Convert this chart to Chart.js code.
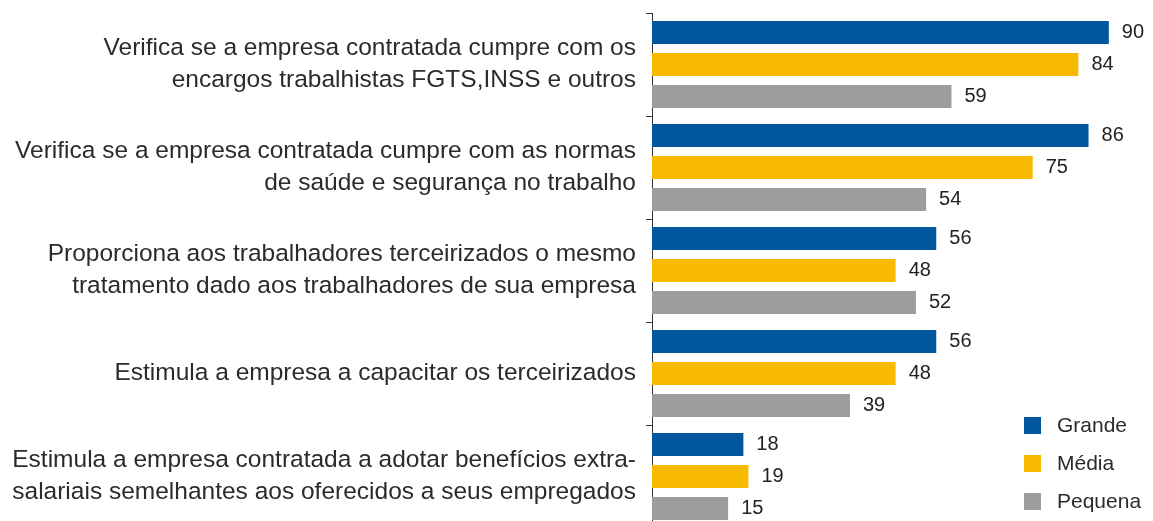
<!DOCTYPE html>
<html>
<head>
<meta charset="utf-8">
<script src="https://cdn.jsdelivr.net/npm/chart.js@4"></script>
<style>
  html, body { margin: 0; padding: 0; background: #fff; overflow: hidden; }
  #wrap { position: relative; width: 1153px; height: 528px; }
  #legend { position: absolute; left: 1024px; top: 406px; font-family: Arial, "Liberation Sans", sans-serif; font-size: 21px; color: #2b2b2b; }
  #legend div { height: 38px; display: flex; align-items: center; }
  #legend span.box { display: inline-block; width: 17px; height: 17px; margin-right: 16px; }
</style>
</head>
<body>
<div id="wrap">
  <canvas id="chart" width="1153" height="528"></canvas>
  <div id="legend"></div>
</div>
<script>
// categories and values (%)
const categories = [
  ['Verifica se a empresa contratada cumpre com os', 'encargos trabalhistas FGTS,INSS e outros'],
  ['Verifica se a empresa contratada cumpre com as normas', 'de saúde e segurança no trabalho'],
  ['Proporciona aos trabalhadores terceirizados o mesmo', 'tratamento dado aos trabalhadores de sua empresa'],
  'Estimula a empresa a capacitar os terceirizados',
  ['Estimula a empresa contratada a adotar benefícios extra-', 'salariais semelhantes aos oferecidos a seus empregados']
];
const seriesNames = ['Grande', 'Média', 'Pequena'];
const grande = [90, 86, 56, 56, 18];
const media = [84, 75, 48, 48, 19];
const pequena = [59, 54, 52, 39, 15];
const colors = ['#00579E', '#F8BA00', '#9D9D9F'];

const valueLabels = {
  id: 'valueLabels',
  afterDatasetsDraw(chart) {
    const ctx = chart.ctx;
    ctx.save();
    ctx.font = '20px Arial, "Liberation Sans", sans-serif';
    ctx.fillStyle = '#222';
    ctx.textBaseline = 'middle';
    ctx.textAlign = 'left';
    chart.data.datasets.forEach((ds, i) => {
      chart.getDatasetMeta(i).data.forEach((bar, j) => {
        ctx.fillText(ds.data[j], bar.x + 13, bar.y);
      });
    });
    ctx.restore();
  }
};

chartIt();
function chartIt() {
  const ctx = document.getElementById('chart').getContext('2d');
  const myChart = new Chart(ctx, {
    type: 'bar',
    data: {
      labels: categories,
      datasets: [grande, media, pequena].map((d, i) => ({
        label: seriesNames[i],
        data: d,
        backgroundColor: colors[i],
        categoryPercentage: 0.932,
        barPercentage: 0.72
      }))
    },
    options: {
      indexAxis: 'y',
      responsive: false,
      animation: false,
      layout: { padding: { top: 13, right: 0, bottom: 0, left: 0 } },
      plugins: { legend: { display: false }, tooltip: { enabled: false } },
      scales: {
        x: { display: false, min: 0, max: 98.7 },
        y: {
          afterFit(scale) {
            scale.width = 652;
            scale.paddingTop = 0;
            scale.paddingBottom = 0;
          },
          border: { display: true, color: '#333', width: 1 },
          grid: { display: true, drawOnChartArea: false, drawTicks: true, tickLength: 6, color: '#333', offset: true },
          ticks: {
            color: '#2b2b2b',
            padding: 10,
            font: { family: 'Arial, "Liberation Sans", sans-serif', size: 24.5, lineHeight: 1.306 }
          }
        }
      }
    },
    plugins: [valueLabels]
  });

  const legend = document.getElementById('legend');
  seriesNames.forEach((name, i) => {
    const row = document.createElement('div');
    row.innerHTML = '<span class="box" style="background:' + colors[i] + '"></span>' + name;
    legend.appendChild(row);
  });
}
</script>
</body>
</html>
